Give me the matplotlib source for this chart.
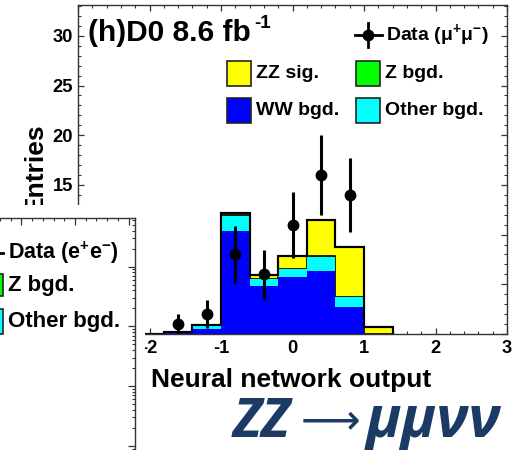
import matplotlib
matplotlib.use('Agg')
import matplotlib.pyplot as plt
from matplotlib.patches import Rectangle
from matplotlib.lines import Line2D
from matplotlib.ticker import MultipleLocator, NullFormatter, LogLocator
import numpy as np

# ---------------- data ----------------
bin_edges = [-2.2, -1.8, -1.4, -1.0, -0.6, -0.2, 0.2, 0.6, 1.0, 1.4]
ww_bgd    = [0.0, 0.10, 0.50, 10.4, 4.8, 5.7, 6.3, 2.7, 0.0]
other_bgd = [0.0, 0.05, 0.30, 1.50, 0.7, 0.8, 1.4, 1.0, 0.0]
z_bgd     = [0.0, 0.00, 0.02, 0.05, 0.05, 0.05, 0.1, 0.05, 0.0]
zz_sig    = [0.0, 0.02, 0.05, 0.20, 0.4, 1.3, 3.7, 5.0, 0.7]

data_x   = [-1.6, -1.2, -0.8, -0.4, 0.0, 0.4, 0.8]
data_y   = [1, 2, 8, 6, 11, 16, 14]
data_err = [1.0, 1.41, 2.83, 2.45, 3.32, 4.0, 3.74]

x_ticks = [-3, -2, -1, 0, 1, 2, 3]
x_tick_labels = ['', '-2', '-1', '0', '1', '2', '3']     # -3 hidden behind the neighbour panel
y_ticks = [0, 5, 10, 15, 20, 25, 30]
y_tick_labels = ['', '', '', '15', '20', '25', '30']     # 0,5,10 hidden behind the neighbour panel

# ---------------- style ----------------
plt.rcParams['font.family'] = ['Liberation Sans', 'DejaVu Sans']
plt.rcParams['font.weight'] = 'bold'
plt.rcParams['axes.unicode_minus'] = False
plt.rcParams['mathtext.fontset'] = 'custom'
plt.rcParams['mathtext.rm'] = 'Liberation Sans'
plt.rcParams['mathtext.bf'] = 'Liberation Sans:bold'
plt.rcParams['mathtext.it'] = 'Liberation Sans:italic'

W, H = 525, 450
fig = plt.figure(figsize=(W / 100, H / 100), dpi=100)
fig.patch.set_facecolor('white')

def fx(px):
    return px / W

def fy(py):
    return 1 - py / H

def frect(x0, y0, x1, y1, **kw):
    r = Rectangle((fx(x0), fy(y1)), fx(x1) - fx(x0), fy(y0) - fy(y1),
                  transform=fig.transFigure, **kw)
    fig.add_artist(r)
    return r

YELLOW = '#FFFF00'
GREEN = '#00FF00'
BLUE = '#0000FF'
CYAN = '#00FFFF'
NAVY = '#1B3A64'

# ---------------- main axes ----------------
ax = fig.add_axes([fx(78), fy(334), fx(507) - fx(78), fy(5) - fy(334)])
ax.set_xlim(-3, 3)
ax.set_ylim(0, 33.1)

edges = np.array(bin_edges)
ww = np.array(ww_bgd)
oth = ww + np.array(other_bgd)
zb = oth + np.array(z_bgd)
tot = zb + np.array(zz_sig)

ax.stairs(tot, edges, fill=True, facecolor=YELLOW, edgecolor='black', lw=1.5, zorder=2)
ax.stairs(zb, edges, fill=True, facecolor=GREEN, edgecolor='black', lw=1.2, zorder=2.1)
ax.stairs(oth, edges, fill=True, facecolor=CYAN, edgecolor='none', zorder=2.2)
ax.stairs(ww, edges, fill=True, facecolor=BLUE, edgecolor='none', zorder=2.3)
ax.stairs(tot, edges, fill=False, edgecolor='black', lw=1.5, zorder=2.4)

ax.errorbar(data_x, data_y, yerr=data_err, fmt='o', color='black', ms=7.5,
            elinewidth=2.2, capsize=0, zorder=3)

ax.set_xticks(x_ticks)
ax.set_xticklabels(x_tick_labels)
ax.set_yticks(y_ticks)
ax.set_yticklabels(y_tick_labels)
ax.xaxis.set_minor_locator(MultipleLocator(0.2))
ax.yaxis.set_minor_locator(MultipleLocator(1))
ax.tick_params(which='both', direction='in', top=True, right=True, colors='#333333',
               labelcolor='black')
ax.tick_params(which='major', length=4.5, width=0.9, labelsize=13.2)
ax.tick_params(which='minor', length=2.2, width=0.8)
ax.tick_params(axis='x', pad=4)
ax.tick_params(axis='y', pad=3.5)
for lab in ax.get_xticklabels() + ax.get_yticklabels():
    lab.set_fontweight('bold')
for s in ax.spines.values():
    s.set_linewidth(1.0)
    s.set_color('#333333')

# axis titles
fig.text(fx(42), fy(168), 'Entries', rotation=90, rotation_mode='anchor',
         ha='center', va='baseline', fontsize=19, fontweight='bold')
fig.text(fx(291.5), fy(387), 'Neural network output', ha='center', va='baseline',
         fontsize=19, fontweight='bold')

# panel title
fig.text(fx(88), fy(41), '(h)D0 8.6 fb', ha='left', va='baseline',
         fontsize=21.5, fontweight='bold')
fig.text(fx(254), fy(28), '-1', ha='left', va='baseline',
         fontsize=13.5, fontweight='bold')

# main legend
fig.add_artist(Line2D([fx(355), fx(382)], [fy(35), fy(35)], color='black', lw=2,
                      transform=fig.transFigure))
fig.add_artist(Line2D([fx(368), fx(368)], [fy(23), fy(47)], color='black', lw=2,
                      transform=fig.transFigure))
fig.add_artist(Line2D([fx(368)], [fy(35)], marker='o', ms=7.5, color='black',
                      transform=fig.transFigure))
fig.text(fx(386), fy(35), r'Data ($\mathrm{\mu^{+}\mu^{-}}$)', ha='left', va='center',
         fontsize=14, fontweight='bold')

leg_items = [
    (227, 61, YELLOW, 'ZZ sig.'),
    (356, 61, GREEN, 'Z bgd.'),
    (227, 98, BLUE, 'WW bgd.'),
    (356, 98, CYAN, 'Other bgd.'),
]
for (x0, y0, col, lab) in leg_items:
    frect(x0, y0, x0 + 24, y0 + 25, facecolor=col, edgecolor='#222222', lw=1.2)
    fig.text(fx(x0 + 29), fy(y0 + 12.5), lab, ha='left', va='center',
             fontsize=14, fontweight='bold')

# ---------------- overlapping neighbour panel ----------------
frect(-10, 205, 145, 460, facecolor='white', edgecolor='none', zorder=5)

ax2 = fig.add_axes([fx(-300), fy(540), fx(135) - fx(-300), fy(218) - fy(540)], zorder=6)
ax2.set_facecolor('white')
ax2.set_yscale('log')
ax2.set_ylim(10 ** -2.578, 10 ** 2.816)
ax2.set_xlim(0, 40.6)
ax2.xaxis.set_major_locator(MultipleLocator(5))
ax2.xaxis.set_minor_locator(MultipleLocator(1))
ax2.yaxis.set_major_locator(LogLocator(base=10))
ax2.yaxis.set_minor_locator(LogLocator(base=10, subs=np.arange(2, 10)))
ax2.yaxis.set_minor_formatter(NullFormatter())
ax2.tick_params(which='both', direction='in', left=False, bottom=False, top=True,
                right=True, labelleft=False, labelbottom=False, colors='#333333')
ax2.tick_params(which='major', length=5, width=0.9)
ax2.tick_params(which='minor', length=2.5, width=0.8)
for s in ax2.spines.values():
    s.set_linewidth(1.0)
    s.set_color('#333333')

# its legend fragment
fig.add_artist(Line2D([fx(-20), fx(3)], [fy(253), fy(253)], color='black', lw=2,
                      transform=fig.transFigure, zorder=7))
fig.text(fx(8), fy(253), r'Data (e$^{\mathbf{+}}$e$^{\mathbf{-}}$)', ha='left',
         va='center', fontsize=15.5, fontweight='bold', zorder=7)
frect(-20, 274, 2.7, 296, facecolor=GREEN, edgecolor='#222222', lw=1.2, zorder=7)
fig.text(fx(8), fy(285), 'Z bgd.', ha='left', va='center', fontsize=16,
         fontweight='bold', zorder=7)
frect(-20, 309, 2.7, 334, facecolor=CYAN, edgecolor='#222222', lw=1.2, zorder=7)
fig.text(fx(8), fy(321), 'Other bgd.', ha='left', va='center', fontsize=16,
         fontweight='bold', zorder=7)

# ---------------- channel caption ----------------
fig.text(fx(233), fy(437), 'ZZ', ha='left', va='baseline', fontsize=39,
         family=['Open Sans', 'DejaVu Sans'], fontweight='bold', style='italic',
         color=NAVY)
fig.text(fx(330), fy(421), '\u27f6', ha='center', va='center', fontsize=30,
         family=['DejaVu Sans'], fontweight='normal', color=NAVY)
fig.text(fx(366), fy(437), '\u03bc\u03bc\u03bd\u03bd', ha='left', va='baseline',
         fontsize=42, family=['Open Sans', 'DejaVu Sans'], fontweight='bold',
         style='italic', color=NAVY)

fig.savefig('out.png', dpi=100)
